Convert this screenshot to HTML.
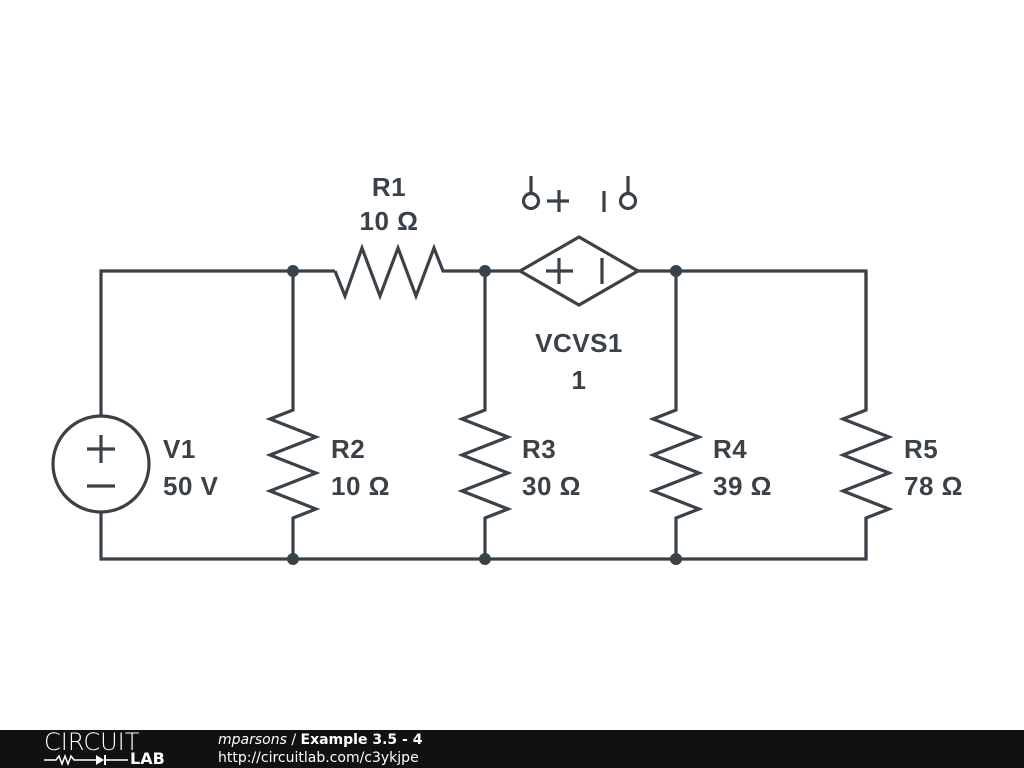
<!DOCTYPE html>
<html><head><style>
body{margin:0;width:1024px;height:768px;background:#fff;overflow:hidden;position:relative;font-family:"DejaVu Sans",sans-serif}
svg{position:absolute;left:0;top:0}
.t{font-family:"Liberation Sans",sans-serif;font-weight:bold;font-size:26px;fill:#3a4249;letter-spacing:0.5px}
#foot{position:absolute;left:0;top:730px;width:1024px;height:38px;background:#111}
</style></head><body>
<svg width="1024" height="768" viewBox="0 0 1024 768">
<g fill="none" stroke="#3a4249" stroke-width="3.2" stroke-linejoin="miter" stroke-linecap="butt">
<polyline points="101,416 101,271 335,271"/>
<polyline points="335,271 345,296 362,248 380,296 398,248 416,296 434,248 443,271 521,271"/>
<polyline points="637,271 866,271 866,410"/>
<polyline points="101,512 101,559 866,559 866,518"/>
<circle cx="101" cy="464" r="48"/>
<line x1="87" y1="449" x2="115" y2="449"/><line x1="101" y1="435" x2="101" y2="463"/>
<line x1="87" y1="486" x2="115" y2="486"/>
<g id="r"><polyline points="293,271 293,410 270,419 316,437 270,455 316,473 270,491 316,509 293,518 293,559"/></g>
<use href="#r" x="192"/><use href="#r" x="383"/><use href="#r" x="573"/>
<polygon points="520,271 579,237 638,271 579,305"/>
<line x1="546" y1="271" x2="573" y2="271"/><line x1="559" y1="258" x2="559" y2="284"/>
<line x1="602" y1="258" x2="602" y2="284"/>
<circle cx="531" cy="201" r="7.5"/><line x1="531" y1="176" x2="531" y2="193"/>
<line x1="547" y1="201" x2="569" y2="201"/><line x1="559" y1="190" x2="559" y2="212"/>
<line x1="604" y1="191" x2="604" y2="212"/>
<circle cx="628" cy="201" r="7.5"/><line x1="628" y1="176" x2="628" y2="193"/>
</g>
<g fill="#3a4249">
<circle cx="293" cy="271" r="6"/><circle cx="485" cy="271" r="6"/><circle cx="676" cy="271" r="6"/>
<circle cx="293" cy="559" r="6"/><circle cx="485" cy="559" r="6"/><circle cx="676" cy="559" r="6"/>
</g>
<text class="t" x="389" y="196" text-anchor="middle">R1</text>
<text class="t" x="389" y="230" text-anchor="middle">10 Ω</text>
<text class="t" x="579" y="352" text-anchor="middle">VCVS1</text>
<text class="t" x="579" y="389" text-anchor="middle">1</text>
<text class="t" x="163" y="458">V1</text><text class="t" x="163" y="495">50 V</text>
<text class="t" x="331" y="458">R2</text><text class="t" x="331" y="495">10 Ω</text>
<text class="t" x="522" y="458">R3</text><text class="t" x="522" y="495">30 Ω</text>
<text class="t" x="713" y="458">R4</text><text class="t" x="713" y="495">39 Ω</text>
<text class="t" x="904" y="458">R5</text><text class="t" x="904" y="495">78 Ω</text>
</svg>
<div id="foot">
<div style="position:absolute;left:44px;top:0;color:#fff;font-family:'DejaVu Sans',sans-serif;font-weight:200;font-size:24px;line-height:24px">CIRCUIT</div>
<div style="position:absolute;left:44px;top:22px;width:84px;height:12px">
<svg width="84" height="14" style="position:absolute;left:0;top:0"><polyline points="0,8 12,8 15,4 18,12 21,4 24,12 27,4 30,8 52,8" fill="none" stroke="#fff" stroke-width="1.5"/><polygon points="52,3 52,13 60,8" fill="#fff"/><line x1="61" y1="3" x2="61" y2="13" stroke="#fff" stroke-width="2"/><line x1="61" y1="8" x2="84" y2="8" stroke="#fff" stroke-width="1.5"/></svg>
<span style="position:absolute;left:86px;top:-3px;color:#fff;font-weight:bold;font-size:16px">LAB</span></div>
<div style="position:absolute;left:218px;top:1px;color:#fff;font-family:'DejaVu Sans',sans-serif;font-size:14px;line-height:18px"><i>mparsons</i> / <b>Example 3.5 - 4</b><br>http://circuitlab.com/c3ykjpe</div>
</div>
</body></html>
